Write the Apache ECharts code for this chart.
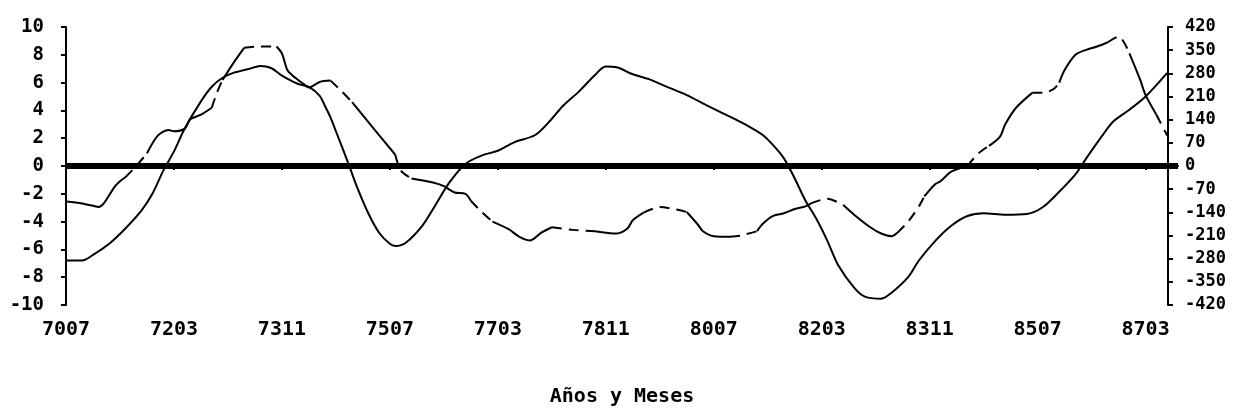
<!DOCTYPE html>
<html>
<head>
<meta charset="utf-8">
<script src="https://cdn.jsdelivr.net/npm/echarts@6/dist/echarts.min.js"></script>
<style>
html,body{margin:0;padding:0;background:#fff}
#chart{width:1236px;height:413px}
</style>
</head>
<body>
<div id="chart"></div>
<script>
// x = months counted from 7007 (0) up to 8707 (204)
const tickMonths = [0, 20, 40, 60, 80, 100, 120, 140, 160, 180, 200];
const tickLabels = ['7007', '7203', '7311', '7507', '7703', '7811', '8007', '8203', '8311', '8507', '8703'];

// smooth solid line, left axis
const indicatorA = [
    [0, -6.8], [3, -6.8], [5, -6.4], [8, -5.6], [11, -4.5], [14, -3.2], [16, -2.0], [18, -0.35],
    [20, 1.05], [22, 2.7], [25, 4.65], [27, 5.7], [29, 6.35], [31, 6.7], [34, 7.0], [36, 7.2],
    [38, 7.05], [40, 6.5], [43, 5.9], [45, 5.7], [47, 5.05], [48, 4.3], [49, 3.5], [50, 2.5],
    [52, 0.5], [54, -1.6], [56, -3.4], [58, -4.8], [60, -5.6], [61, -5.76], [63, -5.5], [66, -4.3],
    [68, -3.1], [71, -1.2], [74, 0.15], [77, 0.75], [80, 1.1], [83, 1.7], [87, 2.25], [90, 3.4],
    [92, 4.3], [95, 5.35], [98, 6.55], [100, 7.15], [102, 7.1], [105, 6.6], [108, 6.25], [111, 5.75],
    [115, 5.1], [119, 4.3], [123, 3.55], [126, 2.95], [129, 2.25], [131, 1.5], [133, 0.55], [135, -0.9],
    [137, -2.5], [139, -3.8], [141, -5.35], [143, -7.1], [146, -8.75], [148, -9.4], [151, -9.55], [153, -9.1],
    [156, -8.0], [158, -6.8], [161, -5.4], [164, -4.3], [167, -3.6], [170, -3.4], [174, -3.5], [178, -3.45],
    [181, -2.95], [184, -1.85], [187, -0.6], [189, 0.55], [192, 2.2], [194, 3.2], [197, 4.05], [200, 5.0],
    [204, 6.7]
];

// partly dashed line, right axis
const indicatorB = [
    [0, -107], [3, -113], [5, -120], [6, -124], [7, -113], [9, -63], [10, -46], [11, -34],
    [13, 0], [15, 38], [17, 92], [19, 109], [20, 105], [22, 113], [23, 141], [25, 155],
    [27, 176], [28, 223], [29, 260], [31, 311], [33, 357], [36, 361], [39, 361], [40, 340],
    [41, 290], [42, 273], [44, 248], [45, 237], [47, 254], [49, 258], [51, 227], [53, 193],
    [57, 113], [61, 34], [62, -13], [64, -38], [68, -50], [70, -61], [72, -80], [74, -84],
    [75, -105], [77, -139], [79, -168], [82, -191], [84, -214], [86, -225], [88, -202], [90, -185],
    [94, -193], [98, -197], [102, -204], [104, -189], [105, -164], [107, -141], [110, -124], [115, -139],
    [117, -176], [118, -197], [120, -212], [123, -214], [125, -210], [128, -197], [129, -176], [131, -151],
    [133, -143], [135, -130], [137, -122], [138, -113], [141, -99], [144, -118], [146, -147], [149, -185],
    [151, -204], [153, -212], [154, -202], [156, -168], [158, -122], [159, -92], [161, -55], [162, -46],
    [164, -17], [167, 0], [169, 38], [171, 61], [173, 88], [174, 126], [176, 176], [179, 221],
    [181, 221], [183, 233], [184, 252], [185, 290], [187, 336], [189, 351], [191, 361], [193, 374],
    [195, 391], [197, 340], [199, 260], [200, 214], [202, 155], [204, 92]
];

// month spans where indicatorB is drawn dashed
const dashedSpans = [
    [11, 15], [27, 29], [33, 39], [49, 53], [61, 64], [75, 79], [90, 98], [107, 115],
    [123, 128], [138, 144], [154, 159], [167, 171], [179, 184], [193, 197], [202, 204]
];

function splitByDash(points, spans) {
    const solid = [], dashed = [];
    const isDashed = (a, b) => spans.some(([s, e]) => a >= s && b <= e);
    for (let i = 1; i < points.length; i++) {
        const p0 = points[i - 1], p1 = points[i];
        const target = isDashed(p0[0], p1[0]) ? dashed : solid;
        if (target.length && target[target.length - 1] === p0) {
            target.push(p1);
        } else {
            if (target.length) target.push([p0[0], null]);
            target.push(p0, p1);
        }
    }
    return {solid, dashed};
}

const partsB = splitByDash(indicatorB, dashedSpans);
const font = 'DejaVu Sans Mono';

var chartDom = document.getElementById('chart');
var myChart = echarts.init(chartDom, null, {renderer: 'canvas'});
var option = {
    animation: false,
    backgroundColor: '#fff',
    grid: {left: 66, right: 58, top: 27, bottom: 108},
    xAxis: {
        type: 'value',
        min: 0,
        max: 206,
        interval: 20,
        splitLine: {show: false},
        axisLine: {lineStyle: {color: '#000', width: 2}},
        axisTick: {customValues: tickMonths, length: 4, lineStyle: {color: '#000', width: 2}},
        axisLabel: {
            customValues: tickMonths,
            formatter: v => tickLabels[tickMonths.indexOf(v)] || '',
            color: '#000', fontFamily: font, fontSize: 20, fontWeight: 'bold', margin: 15
        },
        name: 'Años y Meses',
        nameLocation: 'middle',
        nameGap: 82,
        nameTextStyle: {color: '#000', fontFamily: font, fontSize: 20, fontWeight: 'bold'}
    },
    yAxis: [{
        type: 'value',
        min: -10,
        max: 10,
        interval: 2,
        splitLine: {show: false},
        axisLine: {show: true, lineStyle: {color: '#000', width: 2}},
        axisTick: {show: true, length: 5, lineStyle: {color: '#000', width: 2}},
        axisLabel: {color: '#000', fontFamily: font, fontSize: 19, fontWeight: 'bold', margin: 22}
    }, {
        type: 'value',
        position: 'right',
        offset: -10,
        min: -420,
        max: 420,
        interval: 70,
        splitLine: {show: false},
        axisLine: {show: true, lineStyle: {color: '#000', width: 2}},
        axisTick: {show: true, length: 5, lineStyle: {color: '#000', width: 2}},
        axisLabel: {color: '#000', fontFamily: font, fontSize: 17, fontWeight: 'bold', margin: 17}
    }],
    series: [{
        type: 'line',
        data: indicatorA,
        yAxisIndex: 0,
        symbol: 'none',
        smooth: 0.3,
        lineStyle: {color: '#000', width: 2},
        markLine: {
            silent: true,
            symbol: 'none',
            label: {show: false},
            lineStyle: {color: '#000', width: 6, type: 'solid'},
            data: [{yAxis: 0}]
        }
    }, {
        type: 'line',
        data: partsB.solid,
        yAxisIndex: 1,
        symbol: 'none',
        smooth: 0.3,
        lineStyle: {color: '#000', width: 2}
    }, {
        type: 'line',
        data: partsB.dashed,
        yAxisIndex: 1,
        symbol: 'none',
        smooth: 0.3,
        lineStyle: {color: '#000', width: 2, type: [10, 7]}
    }]
};
option && myChart.setOption(option);
</script>
</body>
</html>
